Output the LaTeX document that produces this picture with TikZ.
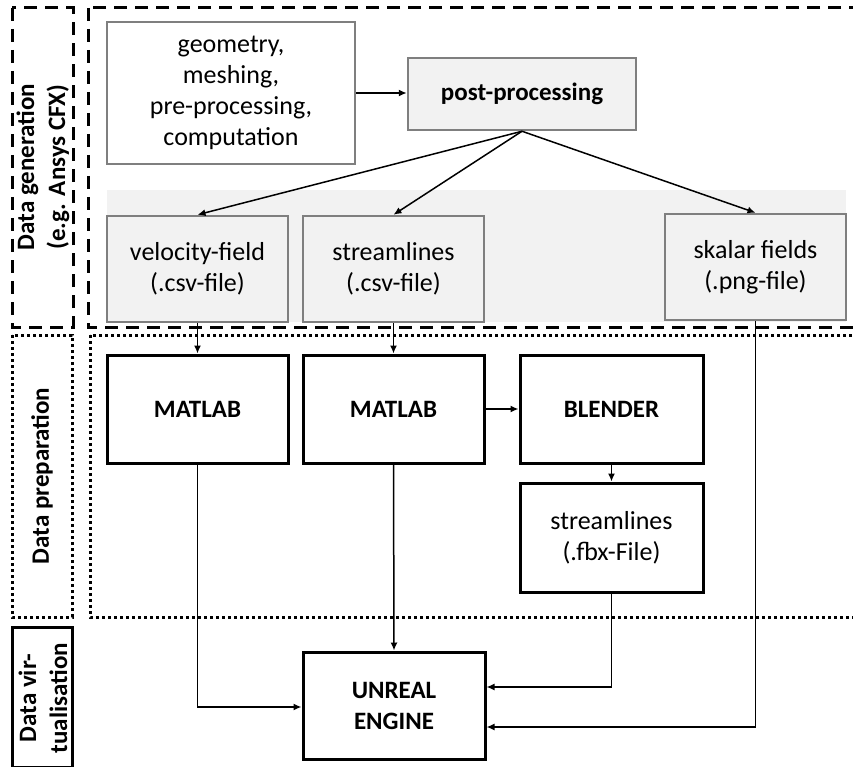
\documentclass[tikz,border=0pt]{standalone}
\usepackage{fontspec}
\setmainfont{Carlito}
\usetikzlibrary{arrows.meta}
\definecolor{boxgrey}{HTML}{7F7F7F}
\definecolor{fillgrey}{HTML}{F2F2F2}
\newcommand{\diagfont}{\fontsize{26pt}{31pt}\selectfont}
\newcommand{\boldfont}{\fontsize{25pt}{31pt}\selectfont\bfseries}
\tikzset{
  greybox/.style={draw=boxgrey, line width=2.5pt, inner sep=0pt, align=center},
  blackbox/.style={draw=black, line width=3pt, inner sep=0pt, align=center, font=\boldfont},
  arr/.style={line width=1.5pt, -{Latex[length=8pt,width=7pt]}},
  genframe/.style={line width=3pt, dash pattern=on 13pt off 8pt},
  prepframe/.style={line width=3pt, dash pattern=on 3pt off 3pt},
  sidelabel/.style={rotate=90, align=center, font=\boldfont}
}
\begin{document}
\begin{tikzpicture}[x=1pt, y=-1pt, font=\diagfont]
        \useasboundingbox (0,0) rectangle (853,767);
        % Cornici delle tre fasi
        \draw[genframe] (12,8) rectangle (73,327);
        \draw[genframe] (88,8) rectangle (870,327);
        \draw[prepframe] (12,335) rectangle (72,617);
        \draw[prepframe] (90,335) rectangle (870,617);
        \draw[line width=3pt] (12,627) rectangle (72,767);

        \node[sidelabel] (gen_label) at (43, 167) {Data generation\\(e.g. Ansys CFX)};
        \node[sidelabel] (prep_label) at (42, 476) {Data preparation};
        \node[sidelabel] (virt_label) at (43, 698) {Data vir-\\tualisation};

        % Fascia grigia dei file esportati
        \fill[fillgrey] (107,190) rectangle (846,322);

        % Generazione dei dati
        \node[greybox, fill=white, minimum width=248pt, minimum height=142pt] (geom_node) at (231, 93) {geometry,\\meshing,\\pre-processing,\\computation};
        \node[greybox, fill=fillgrey, font=\boldfont, minimum width=228pt, minimum height=72pt] (post_node) at (522, 94) {post-processing};

        \node[greybox, fill=fillgrey, minimum width=181pt, minimum height=106pt] (vel_node) at (197.5, 269) {velocity-field\\(.csv-file)};
        \node[greybox, fill=fillgrey, minimum width=181pt, minimum height=106pt] (stream_node) at (393.5, 269) {streamlines\\(.csv-file)};
        \node[greybox, fill=fillgrey, minimum width=181pt, minimum height=106pt] (skalar_node) at (755.5, 267) {skalar fields\\(.png-file)};

        % Preparazione dei dati
        \node[blackbox, minimum width=181pt, minimum height=108pt] (matlab1_node) at (197.5, 409) {MATLAB};
        \node[blackbox, minimum width=181pt, minimum height=108pt] (matlab2_node) at (393.5, 409) {MATLAB};
        \node[blackbox, minimum width=183pt, minimum height=108pt] (blender_node) at (611.5, 409) {BLENDER};
        \node[blackbox, font=\diagfont, minimum width=183pt, minimum height=109pt] (fbx_node) at (611.5, 537.5) {streamlines\\(.fbx-File)};

        % Virtualizzazione
        \node[blackbox, minimum width=182pt, minimum height=107pt] (unreal_node) at (394, 705.5) {UNREAL\\ENGINE};

        \draw[arr] (geom_node.east) -- (post_node.west |- geom_node.east);
        \draw[arr] (post_node.south) -- (vel_node.north);
        \draw[arr] (post_node.south) -- (stream_node.north);
        \draw[arr] (post_node.south) -- (skalar_node.north);
        \draw[arr] (vel_node.south) -- (matlab1_node.north);
        \draw[arr] (stream_node.south) -- (matlab2_node.north);
        \draw[arr] (matlab2_node.east) -- (blender_node.west);
        \draw[arr] (blender_node.south) -- (fbx_node.north);
        \draw[arr] (matlab1_node.south) |- ([yshift=-1.5pt]unreal_node.west);
        \draw[arr] (matlab2_node.south) -- (unreal_node.north);
        \draw[arr] (fbx_node.south) |- ([yshift=18.5pt]unreal_node.east);
        \draw[arr] (skalar_node.south) |- ([yshift=-21.5pt]unreal_node.east);
    \end{tikzpicture}
\end{document}
